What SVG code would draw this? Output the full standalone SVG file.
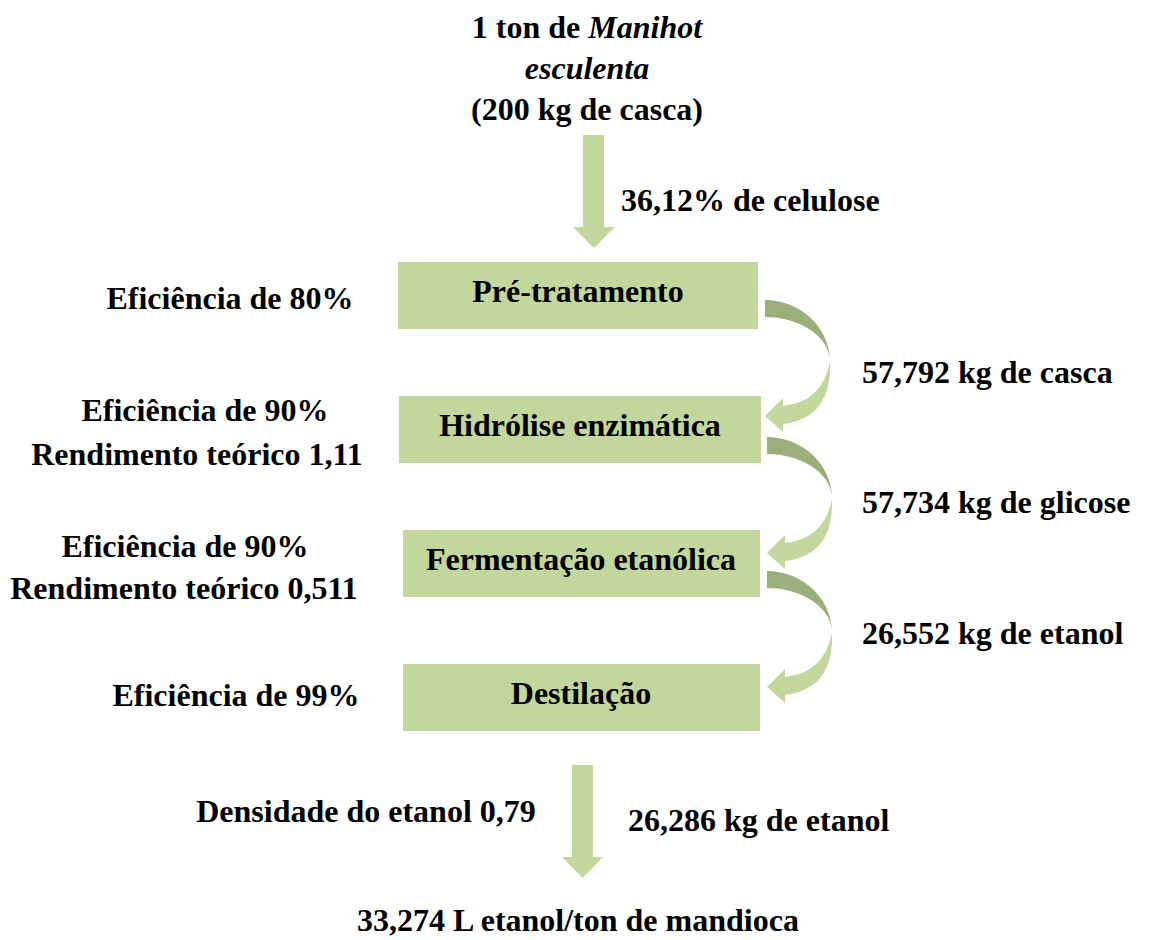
<svg xmlns="http://www.w3.org/2000/svg" xmlns:xlink="http://www.w3.org/1999/xlink" width="1149" height="940" viewBox="0 0 1149 940">
<style>
text{font-family:"Liberation Serif","Times New Roman",serif;font-weight:bold;font-size:32px;fill:#000}
.c{text-anchor:middle}
.i{font-style:italic}
.box{fill:#C3D69B}
.lt{fill:#C3D69B}
.dk{fill:#9BAF7A}
</style>
<defs>
<g id="curve">
<path class="dk" d="M0,0 A65,62 0 0 1 65,62 A65,45 0 0 0 0,17 Z"/>
<path class="lt" d="M65,62 Q67,118 18,124 L18,132 L0,116 L18,98 L18,106 Q57,102 65,62 Z"/>
</g>
</defs>
<rect width="1149" height="940" fill="#fff"/>
<g id="connectors">
<path class="lt" d="M583,135 H604 V227 H615 L594,248 L573,227 H583 Z"/>
<use xlink:href="#curve" x="765" y="300"/>
<use xlink:href="#curve" x="767" y="437"/>
<use xlink:href="#curve" x="767" y="571"/>
<path class="lt" d="M572,765 H593 V857 H603 L582.5,878 L562,857 H572 Z"/>
</g>
<g id="input">
<text class="c" x="587" y="38">1 ton de <tspan class="i">Manihot</tspan></text>
<text class="c i" x="587" y="79">esculenta</text>
<text class="c" x="587" y="120">(200 kg de casca)</text>
</g>
<text x="621" y="211">36,12% de celulose</text>
<g id="pretratamento">
<rect class="box" x="398" y="262" width="360" height="67"/>
<text class="c" x="578" y="302">Pré-tratamento</text>
</g>
<text class="c" x="230" y="309">Eficiência de 80%</text>
<text x="862" y="383">57,792 kg de casca</text>
<g id="hidrolise">
<rect class="box" x="399" y="396" width="362" height="67"/>
<text class="c" x="580" y="436">Hidrólise enzimática</text>
</g>
<text class="c" x="205" y="421">Eficiência de 90%</text>
<text class="c" x="197" y="465">Rendimento teórico 1,11</text>
<text x="862" y="513">57,734 kg de glicose</text>
<g id="fermentacao">
<rect class="box" x="403" y="530" width="357" height="67"/>
<text class="c" x="581" y="570">Fermentação etanólica</text>
</g>
<text class="c" x="185" y="557">Eficiência de 90%</text>
<text class="c" x="184" y="599">Rendimento teórico 0,511</text>
<text x="862" y="644">26,552 kg de etanol</text>
<g id="destilacao">
<rect class="box" x="403" y="664" width="357" height="67"/>
<text class="c" x="581" y="704">Destilação</text>
</g>
<text class="c" x="236" y="706">Eficiência de 99%</text>
<text class="c" x="366" y="822">Densidade do etanol 0,79</text>
<text x="628" y="831">26,286 kg de etanol</text>
<g id="output">
<text class="c" x="578" y="931">33,274 L etanol/ton de mandioca</text>
</g>
</svg>
